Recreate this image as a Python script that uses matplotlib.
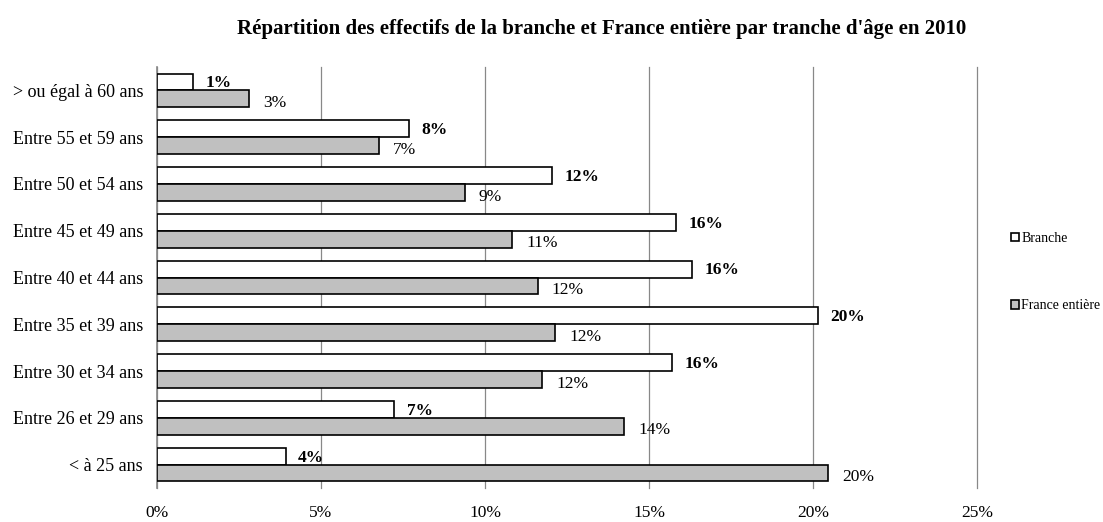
import numpy as np
import matplotlib
matplotlib.use("Agg")
import matplotlib.pyplot as plt

plt.rcParams["font.family"] = ["Liberation Serif", "DejaVu Serif"]

categories = ["< à 25 ans", "Entre 26 et 29 ans", "Entre 30 et 34 ans",
              "Entre 35 et 39 ans", "Entre 40 et 44 ans", "Entre 45 et 49 ans",
              "Entre 50 et 54 ans", "Entre 55 et 59 ans", "> ou égal à 60 ans"]
branche = [3.92, 7.23, 15.69, 20.14, 16.31, 15.83, 12.03, 7.68, 1.09]
france = [20.47, 14.24, 11.75, 12.14, 11.61, 10.83, 9.38, 6.77, 2.80]
xticks = [0, 5, 10, 15, 20, 25]

fig = plt.figure(figsize=(11.03, 5.22), dpi=100)
ax = fig.add_axes([0.1423, 0.0651, 0.7435, 0.8065])

y = np.arange(len(categories))
h = 0.36
ax.barh(y + h / 2, branche, height=h, color="white", edgecolor="black",
        linewidth=1.2, label="Branche", zorder=3)
ax.barh(y - h / 2, france, height=h, color="#c0c0c0", edgecolor="black",
        linewidth=1.2, label="France entière", zorder=3)

for i in range(len(categories)):
    ax.annotate(f"{round(branche[i])}%", (branche[i], y[i] + h / 2),
                xytext=(9, -1), textcoords="offset points", va="center",
                ha="left", fontsize=12.5, fontweight="bold")
    ax.annotate(f"{round(france[i])}%", (france[i], y[i] - h / 2),
                xytext=(10, -3), textcoords="offset points", va="center",
                ha="left", fontsize=12.5)

ax.set_xlim(0, 25)
ax.set_ylim(-0.5, len(categories) - 0.5)
ax.set_xticks(xticks)
ax.set_xticklabels([f"{t}%" for t in xticks], fontsize=12.5)
ax.set_yticks(y)
ax.set_yticklabels(categories, fontsize=13)
ax.tick_params(axis="both", length=0)
ax.tick_params(axis="y", pad=10)
ax.tick_params(axis="x", pad=12)
ax.grid(axis="x", color="#888888", linewidth=0.9, zorder=0)
for gl in ax.get_xgridlines():
    gl.set_clip_on(False)
for s in ["top", "right", "bottom"]:
    ax.spines[s].set_visible(False)
ax.spines["left"].set_color("#888888")
ax.spines["left"].set_linewidth(1.2)

fig.text(0.545, 0.945, "Répartition des effectifs de la branche et France entière par tranche d'âge en 2010",
         ha="center", va="center", fontsize=15, fontweight="bold")

fig.legend(loc="center left", bbox_to_anchor=(1004 / 1103, 0.479), frameon=False,
           fontsize=10, handlelength=0.6, handleheight=0.6, handletextpad=0.15,
           labelspacing=3.9, borderpad=0)

fig.savefig("out.png", dpi=100)
